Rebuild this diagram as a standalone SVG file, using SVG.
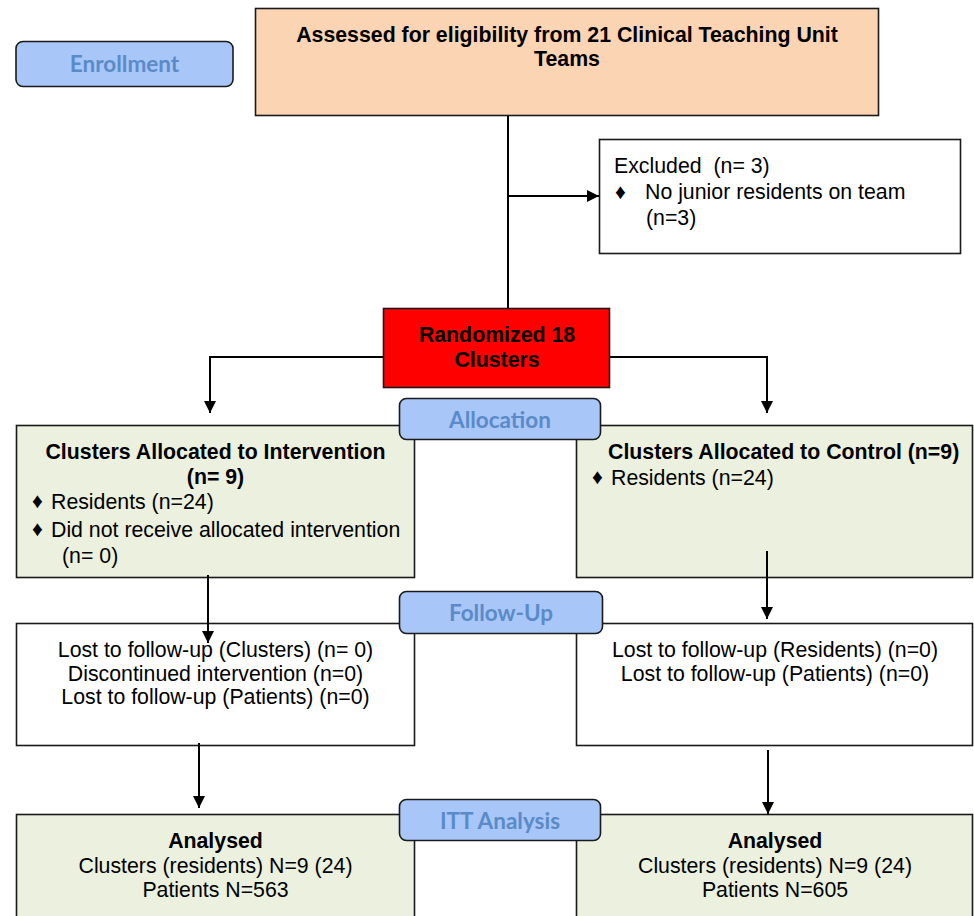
<svg xmlns="http://www.w3.org/2000/svg" width="974" height="916" viewBox="0 0 974 916">
<style>
.box{stroke:#1a1a1a;stroke-width:1.6}
.lbl{fill:#a8c6f8;stroke:#1a1a1a;stroke-width:1.6}
.lt{font-family:Lato,"Open Sans",sans-serif;font-weight:bold;font-size:22.5px;fill:#5a8bc8;text-anchor:middle}
.t{font-family:"Liberation Sans",Arial,sans-serif;font-size:21.3px;fill:#000;white-space:pre}
.b{font-weight:bold}
.c{text-anchor:middle}
.ln{fill:none;stroke:#000;stroke-width:2}
</style>
<defs>
<marker id="ah" viewBox="0 0 10 10" refX="10" refY="5" markerWidth="6" markerHeight="6" orient="auto" markerUnits="strokeWidth">
<path d="M0,0 L10,5 L0,10 Z" fill="#000"/>
</marker>
</defs>
<rect width="974" height="916" fill="#fff"/>

<g id="assessed">
<rect class="box" x="255.5" y="8.5" width="623" height="107" fill="#fbd4b4"/>
<text class="t b c" x="567" y="42">Assessed for eligibility from 21 Clinical Teaching Unit</text>
<text class="t b c" x="567" y="66">Teams</text>
</g>

<g id="excluded">
<rect class="box" x="599.5" y="139.5" width="361" height="114" fill="#fff"/>
<text class="t" x="614" y="173" xml:space="preserve">Excluded  (n= 3)</text>
<text class="t" x="615" y="199" font-size="14">♦</text>
<text class="t" x="645" y="199">No junior residents on team</text>
<text class="t" x="646" y="225">(n=3)</text>
</g>

<g id="randomized">
<rect class="box" x="383.5" y="308.5" width="226" height="79" fill="#ff0000"/>
<text class="t b c" x="497" y="342">Randomized 18</text>
<text class="t b c" x="497" y="367">Clusters</text>
</g>

<g id="intervention">
<rect class="box" x="16.5" y="425.5" width="398" height="152" fill="#ebf1de"/>
<text class="t b c" x="215.5" y="459">Clusters Allocated to Intervention</text>
<text class="t b c" x="215.5" y="484">(n= 9)</text>
<text class="t" x="32" y="508" font-size="14">♦</text>
<text class="t" x="51" y="509">Residents (n=24)</text>
<text class="t" x="32" y="536" font-size="14">♦</text>
<text class="t" x="51" y="537">Did not receive allocated intervention</text>
<text class="t" x="62" y="563">(n= 0)</text>
</g>

<g id="control">
<rect class="box" x="576.5" y="425.5" width="396" height="152" fill="#ebf1de"/>
<text class="t b" x="608" y="459">Clusters Allocated to Control (n=9)</text>
<text class="t" x="592" y="484" font-size="14">♦</text>
<text class="t" x="611" y="485">Residents (n=24)</text>
</g>

<g id="followup-int">
<rect class="box" x="16.5" y="623.5" width="398" height="122" fill="#fff"/>
<text class="t c" x="215.5" y="657">Lost to follow-up (Clusters) (n= 0)</text>
<text class="t c" x="215.5" y="681">Discontinued intervention (n=0)</text>
<text class="t c" x="215.5" y="704">Lost to follow-up (Patients) (n=0)</text>
</g>

<g id="followup-ctrl">
<rect class="box" x="576.5" y="623.5" width="396" height="122" fill="#fff"/>
<text class="t c" x="775" y="657">Lost to follow-up (Residents) (n=0)</text>
<text class="t c" x="775" y="681">Lost to follow-up (Patients) (n=0)</text>
</g>

<g id="analysed-int">
<rect class="box" x="16.5" y="814.5" width="398" height="120" fill="#ebf1de"/>
<text class="t b c" x="215.5" y="848">Analysed</text>
<text class="t c" x="215.5" y="873">Clusters (residents) N=9 (24)</text>
<text class="t c" x="215.5" y="897">Patients N=563</text>
</g>

<g id="analysed-ctrl">
<rect class="box" x="576.5" y="814.5" width="396" height="120" fill="#ebf1de"/>
<text class="t b c" x="775" y="848">Analysed</text>
<text class="t c" x="775" y="873">Clusters (residents) N=9 (24)</text>
<text class="t c" x="775" y="897">Patients N=605</text>
</g>

<g id="connectors">
<path class="ln" d="M508,116 V308"/>
<path class="ln" d="M508,196 H599" marker-end="url(#ah)"/>
<path class="ln" d="M610,357 H767 V413" marker-end="url(#ah)"/>
<path class="ln" d="M383,357 H210 V413" marker-end="url(#ah)"/>
<path class="ln" d="M208,575 V643" marker-end="url(#ah)"/>
<path class="ln" d="M767,551 V619" marker-end="url(#ah)"/>
<path class="ln" d="M199,743 V808" marker-end="url(#ah)"/>
<path class="ln" d="M768,750 V814" marker-end="url(#ah)"/>
</g>

<g id="enrollment">
<rect class="lbl" x="16" y="41.5" width="217" height="45" rx="7"/>
<text class="lt" x="124.5" y="72">Enrollment</text>
</g>
<g id="allocation">
<rect class="lbl" x="399.5" y="398.5" width="201" height="41" rx="7"/>
<text class="lt" x="500" y="428">Allocation</text>
</g>
<g id="followup">
<rect class="lbl" x="399.5" y="591.5" width="203" height="42" rx="7"/>
<text class="lt" x="501" y="621">Follow-Up</text>
</g>
<g id="itt">
<rect class="lbl" x="399.5" y="799.5" width="201" height="41" rx="7"/>
<text class="lt" x="500" y="829">ITT Analysis</text>
</g>
</svg>
